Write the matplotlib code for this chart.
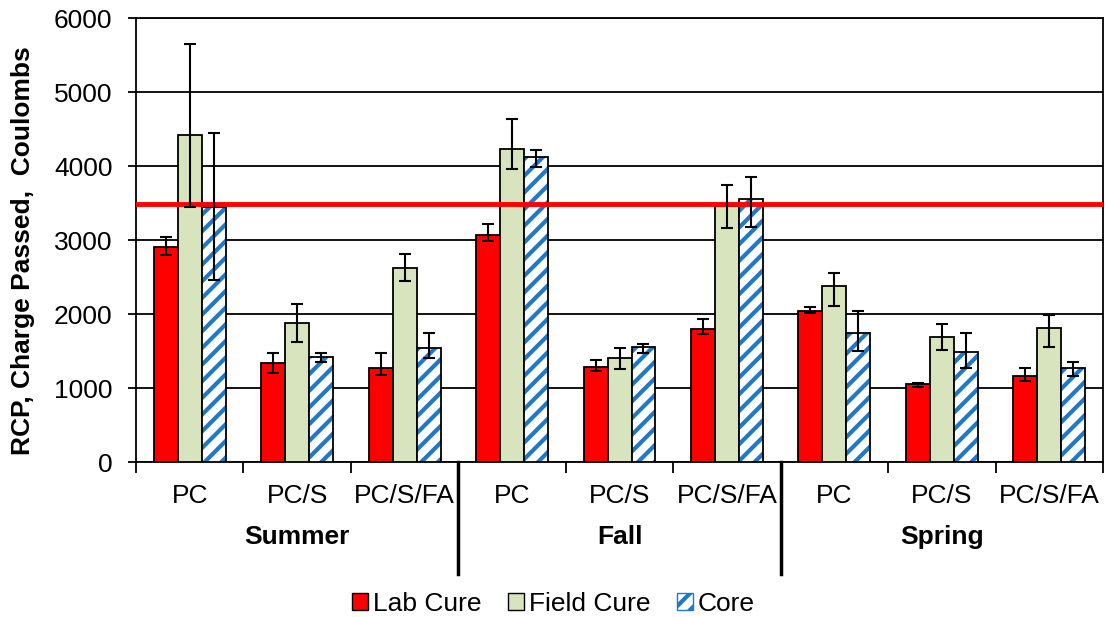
import numpy as np
import matplotlib.pyplot as plt
from matplotlib.patches import Patch
from matplotlib.lines import Line2D

plt.rcParams['font.family'] = ['Liberation Sans', 'DejaVu Sans']
plt.rcParams['hatch.linewidth'] = 3.0

# Data
seasons = ['Summer', 'Fall', 'Spring']
mixes = ['PC', 'PC/S', 'PC/S/FA']
series = ['Lab Cure', 'Field Cure', 'Core']

lab = [2910, 1333, 1266, 3068, 1288, 1797, 2041, 1050, 1167]
lab_lo = [2797, 1198, 1176, 2986, 1234, 1725, 2018, 1018, 1095]
lab_hi = [3045, 1468, 1468, 3216, 1378, 1932, 2099, 1072, 1266]

field = [4419, 1883, 2626, 4225, 1410, 3460, 2383, 1694, 1807]
field_lo = [3450, 1626, 2450, 3959, 1261, 3166, 2113, 1514, 1559]
field_hi = [5649, 2130, 2811, 4635, 1545, 3743, 2559, 1860, 1986]

core = [3450, 1423, 1536, 4126, 1550, 3554, 1739, 1491, 1275]
core_lo = [2459, 1355, 1401, 3982, 1468, 3176, 1505, 1266, 1167]
core_hi = [4441, 1477, 1748, 4216, 1599, 3856, 2045, 1739, 1351]

limit = 3490

fig = plt.figure(figsize=(11.07, 6.17), dpi=100)
ax = fig.add_axes([0.1229, 0.2512, 0.8735, 0.7196])

n = len(lab)
x = np.arange(n) + 0.5
w = 0.223

def errs(v, lo, hi):
    v = np.array(v); return [v - np.array(lo), np.array(hi) - v]

ekw = dict(fmt='none', ecolor='black', elinewidth=1.5, capsize=4, capthick=1.5, zorder=5)

# Lab cure
ax.bar(x - w, lab, w, color='#FF0000', edgecolor='black', linewidth=1.3, zorder=3)
ax.errorbar(x - w, lab, yerr=errs(lab, lab_lo, lab_hi), **ekw)
# Field cure
ax.bar(x, field, w, color='#D7E4BD', edgecolor='black', linewidth=1.3, zorder=3)
ax.errorbar(x, field, yerr=errs(field, field_lo, field_hi), **ekw)
# Core (hatched)
ax.bar(x + w, core, w, color='white', edgecolor='#1F78C8', hatch='//', linewidth=0, zorder=3)
ax.bar(x + w, core, w, fill=False, edgecolor='black', linewidth=1.3, zorder=3.5)
ax.errorbar(x + w, core, yerr=errs(core, core_lo, core_hi), **ekw)

# Red limit line
ax.axhline(limit, color='#FF0000', linewidth=3.5, zorder=4)

ax.set_xlim(0, n)
ax.set_ylim(0, 6000)
ax.set_yticks(np.arange(0, 6001, 1000))
ax.yaxis.grid(True, color='black', linewidth=1.3, zorder=0)
ax.set_axisbelow(True)
for s in ax.spines.values():
    s.set_color('black')
    s.set_linewidth(1.3)

ax.tick_params(axis='y', labelsize=19, length=6, width=1.3, direction='out', pad=11)
ax.set_xticks(x)
ax.set_xticklabels(mixes * 3, fontsize=19)
ax.tick_params(axis='x', which='major', length=0, pad=16)
ax.set_xticks(np.arange(0, n + 1), minor=True)
ax.tick_params(axis='x', which='minor', length=8, width=1.3, direction='out')

# season labels and separators
for i, s in enumerate(seasons):
    ax.text(i * 3 + 1.5, -0.169, s, transform=ax.get_xaxis_transform(),
            ha='center', va='center', fontsize=19, fontweight='bold')
for b in [3, 6]:
    ax.add_line(Line2D([b, b], [0, -0.252], transform=ax.get_xaxis_transform(),
                       color='black', linewidth=2.5, clip_on=False))

ax.set_ylabel('RCP, Charge Passed,  Coulombs', fontsize=19, fontweight='bold')
ax.yaxis.set_label_coords(-0.104, 0.475)

handles = [Patch(facecolor='#FF0000', edgecolor='black'),
           Patch(facecolor='#D7E4BD', edgecolor='black'),
           Patch(facecolor='white', edgecolor='#1F78C8', hatch='//')]
fig.legend(handles, series, loc='center', bbox_to_anchor=(0.5, 1 - 604 / 617),
           ncol=3, frameon=False, fontsize=19, handlelength=0.6, handleheight=0.6,
           handletextpad=0.2, columnspacing=1.0)

fig.savefig('out.png', dpi=100)
